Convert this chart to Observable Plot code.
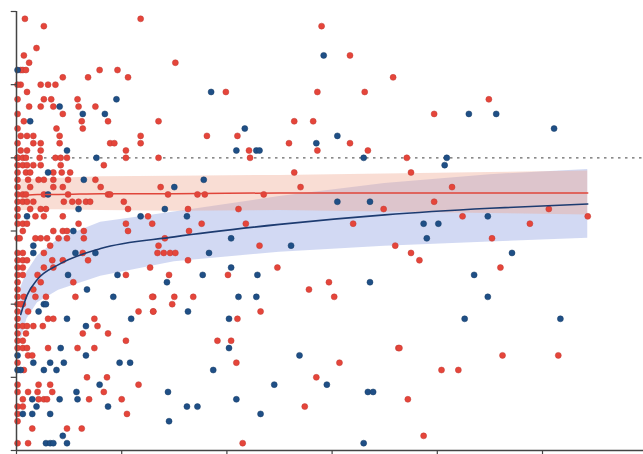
<!DOCTYPE html>
<html><head><meta charset="utf-8">
<script src="https://cdn.jsdelivr.net/npm/d3@7"></script>
<script src="https://cdn.jsdelivr.net/npm/@observablehq/plot@0.6"></script>
<style>body{margin:0;background:#fff;}#chart{width:643px;height:454px;}</style>
</head><body><div id="chart"></div>
<script>
const xTicks = [0, 10, 20, 30, 40, 50];
const yTicks = [0, 1, 2, 3, 4, 5, 6];
const reference = 4;

const redPoints = [
  [0.8,5.9],[2.6,5.8],[11.8,5.9],[1.9,5.5],[0.7,5.4],[1.2,5.3],[0.4,5.2],[0.6,5.2],[0.9,5.2],
  [4.4,5.1],[6.8,5.1],[7.9,5.2],[9.6,5.2],[10.6,5.1],[0.4,5.0],[1.0,4.9],[2.3,5.0],[3.0,5.0],[3.7,5.0],
  [2.6,4.8],[3.3,4.8],[5.8,4.8],[1.2,4.7],[2.3,4.7],[3.5,4.7],[5.9,4.7],[7.5,4.7],[4.4,4.6],[8.7,4.5],
  [6.2,4.5],[0.7,4.5],[3.8,4.4],[6.3,4.4],[0.4,4.3],[1.0,4.3],[1.6,4.3],[4.1,4.3],[11.8,4.3],[1.6,4.2],
  [2.3,4.2],[4.1,4.2],[8.9,4.2],[9.3,4.2],[11.8,4.2],[10.4,4.1],[0.4,4.1],[1.0,4.1],[2.3,4.1],[3.7,4.0],[4.2,4.0],
  [0.1,4.4],[0.1,4.6],[0.1,4.8],[0.1,5.0],[0.1,4.2],[0.1,4.0],
  [29.0,5.8],[15.1,5.3],[31.7,5.4],[35.8,5.1],[19.9,4.9],[28.6,4.9],[33.1,4.9],[13.5,4.5],[26.4,4.5],
  [28.2,4.5],[18.1,4.3],[21.0,4.3],[25.9,4.2],[31.7,4.2],[22.1,4.1],[28.6,4.1],[33.4,4.1],[13.5,4.0],[22.2,4.0],
  [26.4,3.8],[13.7,3.6],[27.0,3.6],[14.4,3.5],[17.2,3.5],[17.9,3.5],[23.5,3.5],[16.3,3.3],[21.1,3.3],
  [34.9,3.3],[17.6,3.1],[12.9,3.1],[21.8,3.1],[32.0,3.1],
  [14.1,2.9],[16.4,3.0],[13.5,2.8],[23.1,2.8],[36.0,2.8],[13.4,2.7],[14.0,2.7],[14.6,2.7],[15.1,2.7],
  [16.3,2.6],[12.7,2.5],[24.8,2.5],[14.5,2.4],[20.1,2.4],[29.7,2.3],[27.8,2.2],[13.0,2.1],[15.0,2.1],
  [16.8,2.1],[30.2,2.1],[14.8,2.0],[13.0,1.9],[23.2,1.9],[21.0,1.8],[19.1,1.5],[20.4,1.5],[36.3,1.4],
  [20.9,1.2],[30.7,1.2],[28.5,1.0],[27.4,0.6],[21.5,0.1],
  [44.9,4.8],[39.7,4.6],[37.1,4.0],[37.5,3.8],[41.4,3.6],[39.7,3.4],[42.4,3.2],[50.6,3.3],[54.3,3.2],[48.8,3.1],
  [45.2,2.9],[37.5,2.7],[38.3,2.6],[46.0,2.5],[36.4,1.4],[46.2,1.3],[51.5,1.3],[40.4,1.1],[42.0,1.1],[37.2,0.7],[38.7,0.2],
  [0.1,4.0],[0.6,4.0],[0.9,4.0],[2.2,4.0],[4.8,4.0],[10.4,4.0],
  [0.1,3.9],[0.6,3.9],[1.0,3.9],[1.6,3.9],[2.3,3.9],[4.2,3.9],[8.3,3.9],
  [0.1,3.8],[0.9,3.8],[1.3,3.8],[3.5,3.8],[4.3,3.8],[5.1,3.8],
  [0.1,3.7],[1.1,3.7],[2.1,3.7],[2.6,3.7],[3.5,3.7],[4.9,3.7],[7.5,3.7],
  [0.1,3.6],[1.3,3.6],[3.5,3.6],[4.4,3.6],[8.0,3.6],
  [0.1,3.5],[0.6,3.5],[0.9,3.5],[2.6,3.5],[4.9,3.5],[8.7,3.5],[8.9,3.5],
  [0.1,3.4],[0.6,3.4],[1.0,3.4],[1.6,3.4],[4.5,3.4],[5.3,3.4],[5.9,3.4],[6.6,3.4],[7.0,3.4],[10.2,3.4],
  [0.1,3.3],[1.3,3.3],[2.3,3.3],[2.8,3.3],[10.6,3.3],
  [0.1,3.2],[1.8,3.2],[2.6,3.2],[4.4,3.2],[12.5,3.2],
  [0.1,3.1],[0.6,3.1],[1.0,3.1],[5.9,3.1],[10.4,3.1],
  [0.6,3.0],[3.5,3.0],[4.4,3.0],[4.8,3.0],[6.4,3.0],[10.6,3.0],
  [0.1,2.9],[0.3,2.9],[1.8,2.9],[2.3,2.9],[2.9,2.9],[4.0,2.9],[4.8,2.9],[6.4,2.9],
  [3.2,2.8],[0.1,2.7],[0.6,2.7],[2.6,2.7],[6.3,2.7],
  [0.1,2.6],[0.6,2.6],[1.0,2.6],[3.4,2.6],[4.4,2.6],[6.8,2.6],
  [0.1,2.5],[0.6,2.5],[2.6,2.5],[3.5,2.5],
  [0.1,2.4],[0.6,2.4],[2.0,2.4],[10.4,2.4],
  [0.1,2.3],[2.3,2.3],[5.4,2.3],[0.1,2.2],[1.6,2.2],
  [0.1,2.1],[0.7,2.1],[1.8,2.1],[2.8,2.1],[5.6,2.1],[12.9,2.1],
  [0.1,2.0],[0.6,2.0],[0.4,2.0],
  [0.1,1.9],[1.1,1.9],[11.6,1.9],[13.0,1.9],
  [0.1,1.8],[3.0,1.8],[3.5,1.8],[7.4,1.8],
  [0.1,1.7],[0.6,1.7],[1.0,1.7],[1.6,1.7],[2.5,1.7],[7.7,1.7],
  [0.1,1.6],[0.9,1.6],[6.3,1.6],[8.7,1.6],
  [0.1,1.5],[0.6,1.5],[10.4,1.5],
  [0.1,1.4],[0.6,1.4],[1.0,1.4],[3.0,1.4],[5.8,1.4],[7.4,1.4],
  [1.1,1.3],[1.5,1.3],[0.1,1.2],[0.7,1.1],[6.7,1.0],[8.6,1.0],
  [0.1,0.9],[2.1,0.9],[3.2,0.9],[11.6,0.9],
  [0.1,0.8],[1.1,0.8],[2.0,0.8],[3.4,0.8],[8.3,0.8],
  [0.6,0.7],[2.1,0.7],[2.6,0.7],[2.9,0.7],[6.9,0.7],[10.0,0.7],
  [0.1,0.6],[0.6,0.6],[0.1,0.5],[10.5,0.5],[0.1,0.4],
  [1.5,0.3],[4.8,0.3],[6.2,0.3],[0.1,0.1],[1.1,0.1]
];

const bluePoints = [
  [0.1,5.2],[9.5,4.8],[4.1,4.7],[6.3,4.6],[8.4,4.6],[1.3,4.5],[4.8,4.1],[7.6,4.0],
  [29.2,5.4],[18.5,4.9],[21.7,4.4],[30.5,4.3],[28.5,4.2],[20.9,4.1],[22.8,4.1],[23.1,4.1],[33.0,4.0],
  [17.8,3.7],[15.0,3.6],[14.1,3.3],[30.5,3.4],[33.6,3.4],[16.2,3.2],
  [20.4,2.9],[26.1,2.8],[18.3,2.7],[20.4,2.5],[17.7,2.4],[22.9,2.4],[14.3,2.3],[33.6,2.3],[21.1,2.1],
  [22.8,2.1],[16.3,1.9],[20.2,1.8],[20.2,1.4],[26.9,1.3],[18.7,1.1],[24.5,0.9],[29.5,0.9],[14.4,0.8],
  [33.4,0.8],[33.9,0.8],[20.9,0.7],[16.2,0.6],[17.2,0.6],[23.2,0.5],[14.5,0.4],[33.0,0.1],
  [43.0,4.6],[45.6,4.6],[51.1,4.4],[40.9,4.0],[40.7,3.9],[44.8,3.2],[38.7,3.1],[40.1,3.1],
  [39.0,2.9],[47.1,2.7],[43.5,2.4],[44.8,2.1],[42.6,1.8],[51.7,1.8],
  [3.0,3.8],[6.4,3.7],[3.0,3.5],[5.9,3.3],[1.0,3.2],[11.8,3.2],[5.4,3.0],[1.6,2.8],[1.6,2.7],[5.6,2.7],
  [7.5,2.7],[4.9,2.4],[9.6,2.4],[6.7,2.2],[9.2,2.1],[2.6,2.0],
  [2.8,2.0],[2.1,1.9],[4.8,1.8],[10.9,1.8],[6.6,1.7],[4.2,1.4],[6.6,1.3],[1.6,1.2],[3.2,1.2],[4.5,1.2],
  [9.8,1.2],[10.8,1.2],[0.4,1.1],[2.6,1.1],[3.8,1.1],[7.9,0.9],[5.7,0.8],[1.5,0.7],[4.1,0.7],[5.8,0.7],
  [1.9,0.6],[8.7,0.6],[0.6,0.5],[1.5,0.5],[3.2,0.5],[4.4,0.2],[2.8,0.1],[3.2,0.1],[3.5,0.1],[4.8,0.1],
  [0.1,1.3],[0.1,1.1]
];

const fitX      = [0.4, 1, 2, 4, 8, 15, 25, 35, 45, 54.3];
const blueFit   = [1.86, 2.12, 2.34, 2.54, 2.76, 2.92, 3.09, 3.22, 3.31, 3.37];
const blueLower = [1.50, 1.80, 2.02, 2.19, 2.38, 2.58, 2.71, 2.79, 2.85, 2.90];
const blueUpper = [2.22, 2.44, 2.66, 2.89, 3.12, 3.26, 3.47, 3.65, 3.77, 3.84];
const redFit    = [3.49, 3.49, 3.50, 3.50, 3.51, 3.51, 3.52, 3.52, 3.52, 3.52];
const redLower  = [3.28, 3.28, 3.29, 3.29, 3.28, 3.27, 3.28, 3.26, 3.24, 3.22];
const redUpper  = [3.70, 3.70, 3.71, 3.72, 3.74, 3.75, 3.76, 3.78, 3.80, 3.82];

const fits = fitX.map((x, i) => ({
  x, blue: blueFit[i], bl: blueLower[i], bu: blueUpper[i],
  red: redFit[i], rl: redLower[i], ru: redUpper[i]
}));
const red = redPoints.map(([x, y]) => ({x, y}));
const blue = bluePoints.map(([x, y]) => ({x, y}));

const chart = Plot.plot({
  width: 643,
  height: 454,
  marginLeft: 16,
  marginRight: 0,
  marginTop: 11,
  marginBottom: 4,
  x: {domain: [0, 59.6], axis: null},
  y: {domain: [0, 6], axis: null},
  marks: [
    Plot.areaY(fits, {x: "x", y1: "bl", y2: "bu", fill: "#8e9fe0", fillOpacity: 0.4}),
    Plot.areaY(fits, {x: "x", y1: "rl", y2: "ru", fill: "#f0a58e", fillOpacity: 0.38}),
    Plot.ruleY([reference], {stroke: "#666", strokeWidth: 1.2, strokeDasharray: "2.5,4.5"}),
    Plot.dot(red, {x: "x", y: "y", r: 3, fill: "#e5453a", stroke: "#c03a35", strokeWidth: 0.5}),
    Plot.dot(blue, {x: "x", y: "y", r: 3, fill: "#1f4f86", stroke: "#173c66", strokeWidth: 0.5}),
    Plot.line(fits, {x: "x", y: "red", stroke: "#e0453a", strokeWidth: 1.5, curve: "monotone-x"}),
    Plot.line(fits, {x: "x", y: "blue", stroke: "#1d3b70", strokeWidth: 1.6, curve: "monotone-x"}),
    Plot.ruleX([0], {y1: 0, y2: 6, stroke: "#444", strokeWidth: 1.5}),
    Plot.ruleY([0], {x1: 0, x2: 59.6, stroke: "#444", strokeWidth: 1.5}),
    Plot.ruleY(yTicks, {y: d => d, x1: 0, x2: -0.5, stroke: "#444", strokeWidth: 1.2}),
    Plot.ruleX(xTicks, {x: d => d, y1: 0, y2: -0.055, stroke: "#444", strokeWidth: 1.2})
  ]
});
document.getElementById("chart").append(chart);
</script>
</body></html>
